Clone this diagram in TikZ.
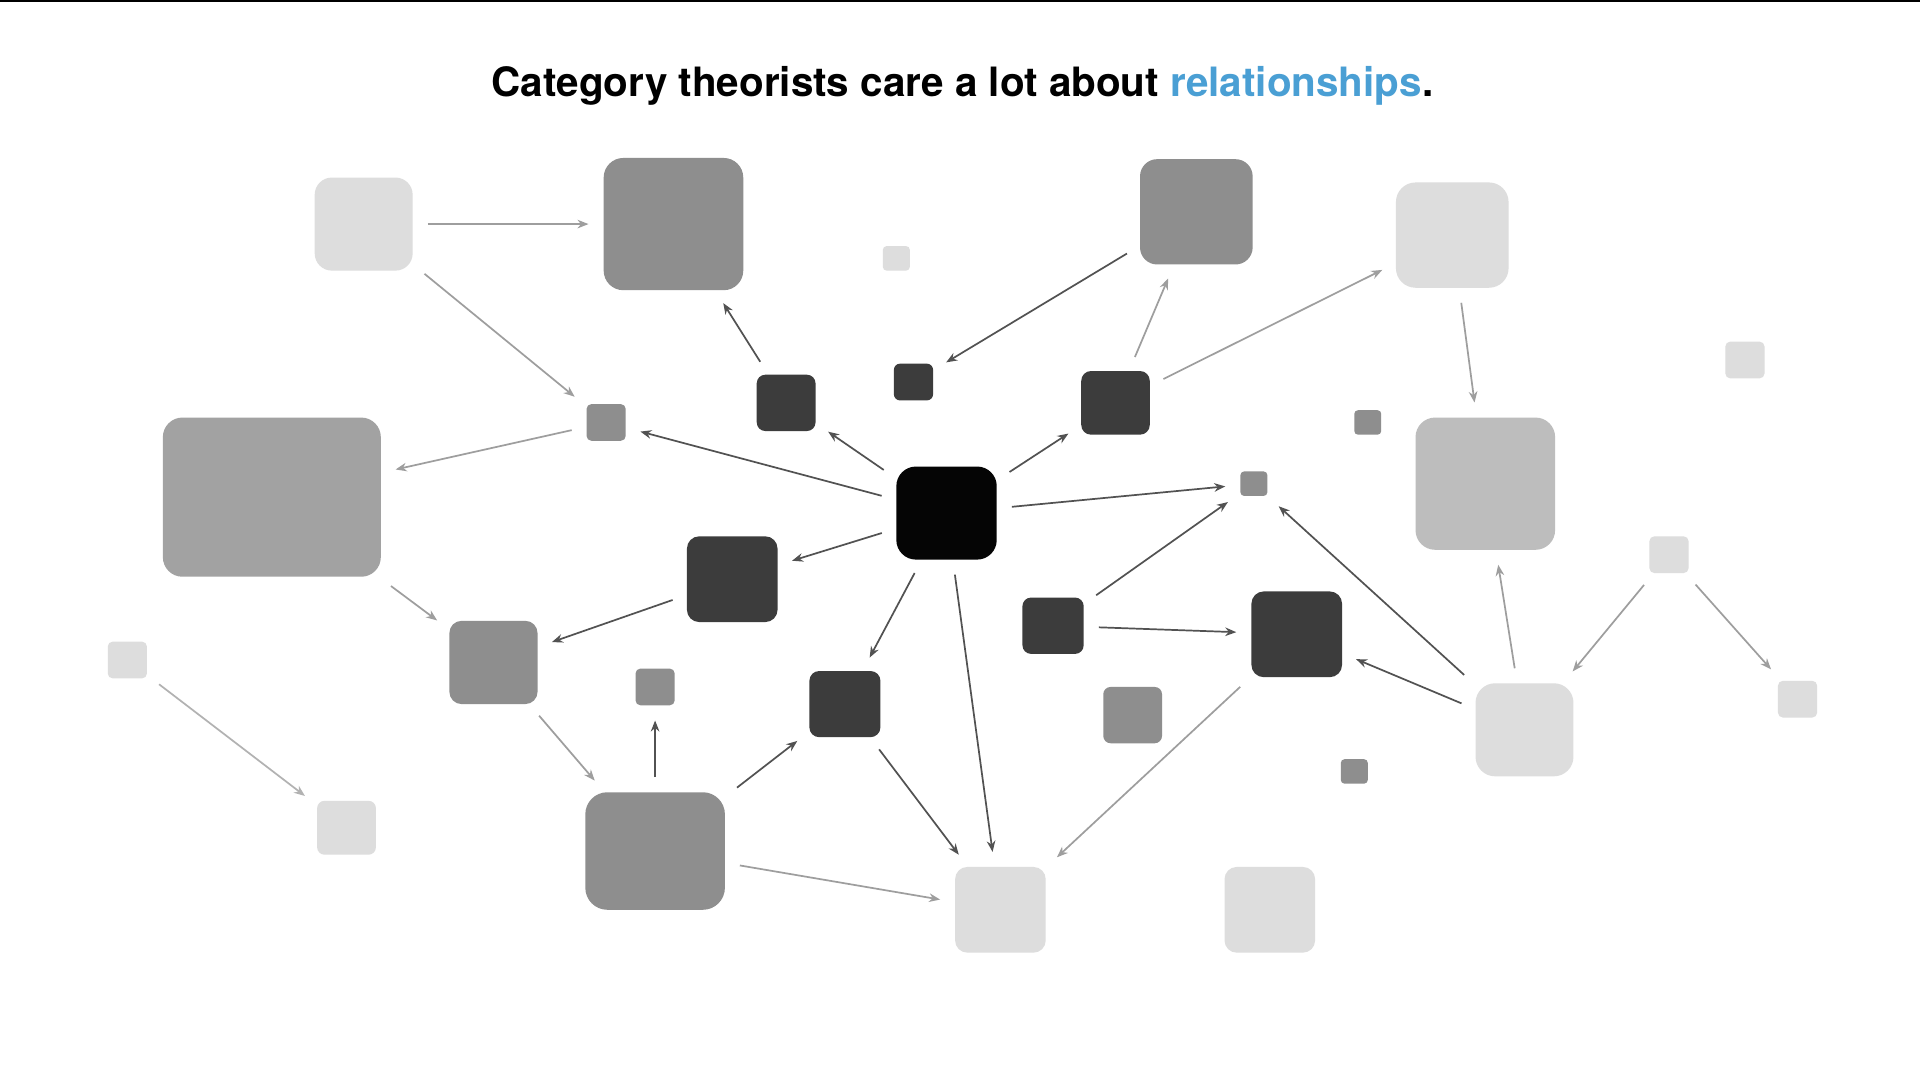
\documentclass[tikz,border=0pt]{standalone}
\usepackage{fontspec}
\setmainfont{TeX Gyre Heros}
\usetikzlibrary{arrows.meta}
\definecolor{lt}{HTML}{DDDDDD}
\definecolor{md}{HTML}{8E8E8E}
\definecolor{ml}{HTML}{A2A2A2}
\definecolor{mb}{HTML}{BDBDBD}
\definecolor{dk}{HTML}{3C3C3C}
\definecolor{bk}{HTML}{050505}
\definecolor{ttl}{HTML}{4A9FD4}
\begin{document}
\begin{tikzpicture}[x=0.5pt,y=-0.5pt,
 box/.style n args={4}{draw=none,fill=#3,minimum width=#1*0.5pt,minimum height=#2*0.5pt,rounded corners=#4*0.5pt,inner sep=0pt},
 arr/.style={-{Stealth[length=4.5pt,width=3.5pt]},line width=0.7pt,shorten <=#1*0.5pt,shorten >=#1*0.5pt},
 arr/.default=12,
 ga/.style={arr,draw=black!38},
 la/.style={arr,draw=black!30},
 da/.style={arr,draw=black!68}]
\useasboundingbox (0,0) rectangle (1568,882);
\fill[white] (0,0) rectangle (1568,882);
\draw[line width=1pt] (0,1) -- (1568,1);
\node[font=\bfseries\fontsize{16.5}{20}\selectfont] (title) at (786,70) {Category theorists care a lot about \textcolor{ttl}{relationships}.};
\node[box={80}{76}{lt}{14}] (A) at (297,183) {};
\node[box={114}{108}{md}{16}] (B) at (550,183) {};
\node[box={92}{86}{md}{14}] (C) at (977,173) {};
\node[box={92}{86}{lt}{16}] (D) at (1186,192) {};
\node[box={22}{20}{lt}{3}] (E) at (732,211) {};
\node[box={32}{30}{lt}{4}] (F) at (1425,294) {};
\node[box={32}{30}{md}{4}] (G) at (495,345) {};
\node[box={48}{46}{dk}{7}] (H) at (642,329) {};
\node[box={32}{30}{dk}{5}] (I) at (746,312) {};
\node[box={56}{52}{dk}{8}] (J) at (911,329) {};
\node[box={22}{20}{md}{3}] (K) at (1117,345) {};
\node[box={178}{130}{ml}{16}] (L) at (222,406) {};
\node[box={114}{108}{mb}{16}] (M) at (1213,395) {};
\node[box={82}{76}{bk}{16}] (N) at (773,419) {};
\node[box={22}{20}{md}{3}] (O) at (1024,395) {};
\node[box={74}{70}{dk}{10}] (P) at (598,473) {};
\node[box={32}{30}{lt}{4}] (Q) at (1363,453) {};
\node[box={32}{30}{lt}{4}] (R) at (104,539) {};
\node[box={72}{68}{md}{10}] (S) at (403,541) {};
\node[box={50}{46}{dk}{7}] (T) at (860,511) {};
\node[box={74}{70}{dk}{10}] (U) at (1059,518) {};
\node[box={32}{30}{md}{4}] (V) at (535,561) {};
\node[box={58}{54}{dk}{8}] (W) at (690,575) {};
\node[box={48}{46}{md}{6}] (X) at (925,584) {};
\node[box={80}{76}{lt}{16}] (Y) at (1245,596) {};
\node[box={32}{30}{lt}{4}] (Z) at (1468,571) {};
\node[box={22}{20}{md}{3}] (AA) at (1106,630) {};
\node[box={48}{44}{lt}{6}] (BB) at (283,676) {};
\node[box={114}{96}{md}{18}] (CC) at (535,695) {};
\node[box={74}{70}{lt}{10}] (DD) at (817,743) {};
\node[box={74}{70}{lt}{10}] (EE) at (1037,743) {};
\draw[ga] (A) -- (B);
\draw[ga] (A) -- (G);
\draw[ga] (G) -- (L);
\draw[da] (H) -- (B);
\draw[da] (C) -- (I);
\draw[ga] (J) -- (C);
\draw[ga] (J) -- (D);
\draw[ga] (D) -- (M);
\draw[da] (N) -- (G);
\draw[da] (N) -- (H);
\draw[da] (N) -- (J);
\draw[da] (N) -- (O);
\draw[da] (N) -- (P);
\draw[da] (N) -- (W);
\draw[da] (N) -- (DD);
\draw[da] (P) -- (S);
\draw[ga] (L) -- (S);
\draw[la] (R) -- (BB);
\draw[ga] (S) -- (CC);
\draw[da] (CC) -- (V);
\draw[da] (CC) -- (W);
\draw[ga] (CC) -- (DD);
\draw[da] (W) -- (DD);
\draw[da] (T) -- (O);
\draw[da] (T) -- (U);
\draw[da] (Y) -- (O);
\draw[da] (Y) -- (U);
\draw[ga] (Y) -- (M);
\draw[ga] (U) -- (DD);
\draw[ga] (Q) -- (Y);
\draw[ga] (Q) -- (Z);
\end{tikzpicture}
\end{document}
